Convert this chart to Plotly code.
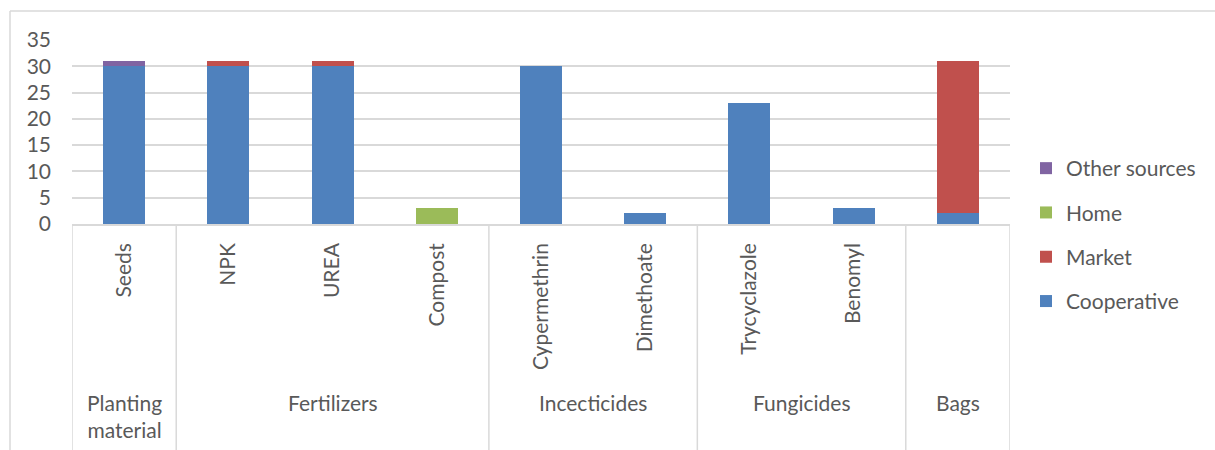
import plotly.graph_objects as go

# Inputs and their category groups
items = ["Seeds", "NPK", "UREA", "Compost", "Cypermethrin", "Dimethoate",
         "Trycyclazole", "Benomyl", "Bags"]
item_labels = ["Seeds", "NPK", "UREA", "Compost", "Cypermethrin", "Dimethoate",
               "Trycyclazole", "Benomyl", ""]
groups = ["Planting<br>material", "Fertilizers", "Incecticides", "Fungicides", "Bags"]
group_sizes = [1, 3, 2, 2, 1]

# Number of respondents by source
cooperative = [30, 30, 30, 0, 30, 2, 23, 3, 2]
market = [0, 1, 1, 0, 0, 0, 0, 0, 29]
home = [0, 0, 0, 3, 0, 0, 0, 0, 0]
other_sources = [1, 0, 0, 0, 0, 0, 0, 0, 0]

y_ticks = [0, 5, 10, 15, 20, 25, 30, 35]

FONT = "Lato"
TXT = "#595959"
GRID = "#d9d9d9"

W, H = 1215, 450
L, R, T, B = 72, 205, 40, 226
plot_h = H - T - B
plot_w = W - L - R


def px_to_paper_y(py):
    return (H - B - py) / plot_h


def px_to_paper_x(px):
    return (px - L) / plot_w


# (name, values, colour, legend position from top)
series = [
    ("Cooperative", cooperative, "#4F81BD", 4),
    ("Market", market, "#C0504D", 3),
    ("Home", home, "#9BBB59", 2),
    ("Other sources", other_sources, "#8064A2", 1),
]

fig = go.Figure()
for name, vals, color, rank in series:
    fig.add_trace(go.Bar(
        x=items, y=vals, name=name, legendgroup=name, legendrank=rank,
        marker=dict(color=color, line=dict(width=0)),
    ))

shapes = []
# Group divider lines below the category axis
bounds = [-0.5]
for n in group_sizes:
    bounds.append(bounds[-1] + n)
for b in bounds:
    shapes.append(dict(type="line", xref="x", yref="paper", x0=b, x1=b,
                       y0=0, y1=px_to_paper_y(H + 2),
                       line=dict(color=GRID, width=1.5)))
# Chart frame (top and left edges)
fx = px_to_paper_x(10)
fy = px_to_paper_y(11)
shapes.append(dict(type="line", xref="paper", yref="paper", x0=fx, x1=px_to_paper_x(W + 2),
                   y0=fy, y1=fy, line=dict(color=GRID, width=1.5)))
shapes.append(dict(type="line", xref="paper", yref="paper", x0=fx, x1=fx,
                   y0=fy, y1=px_to_paper_y(H + 2), line=dict(color=GRID, width=1.5)))

annotations = []
start = 0
for g, n in zip(groups, group_sizes):
    center = start + (n - 1) / 2
    annotations.append(dict(
        x=center, xref="x", y=px_to_paper_y(388), yref="paper",
        text=g, showarrow=False, xanchor="center", yanchor="top",
        font=dict(family=FONT, size=21, color=TXT),
    ))
    start += n

fig.update_layout(
    width=W, height=H,
    margin=dict(l=L, r=R, t=T, b=B, pad=0),
    paper_bgcolor="white", plot_bgcolor="white",
    barmode="stack", bargap=0.597,
    font=dict(family=FONT, size=21, color=TXT),
    shapes=shapes, annotations=annotations,
    showlegend=True,
    legend=dict(
        traceorder="grouped", tracegroupgap=14,
        x=px_to_paper_x(1026), xanchor="left",
        y=px_to_paper_y(235), yanchor="middle",
        font=dict(family=FONT, size=21, color=TXT),
        bgcolor="rgba(0,0,0,0)",
    ),
    xaxis=dict(
        type="category", range=[-0.5, 8.5],
        tickmode="array", tickvals=items, ticktext=item_labels,
        tickangle=-90, ticks="", showgrid=False,
        showline=True, linecolor=GRID, linewidth=1.5,
        ticklabelstandoff=9,
        tickfont=dict(family=FONT, size=21, color=TXT),
    ),
    yaxis=dict(
        range=[0, 35], tickvals=y_ticks, ticks="",
        showgrid=True, gridcolor=GRID, gridwidth=1.5,
        zeroline=False, showline=False,
        ticklabelstandoff=20,
        tickfont=dict(family=FONT, size=21, color=TXT),
    ),
)

fig.write_html("out.html")
